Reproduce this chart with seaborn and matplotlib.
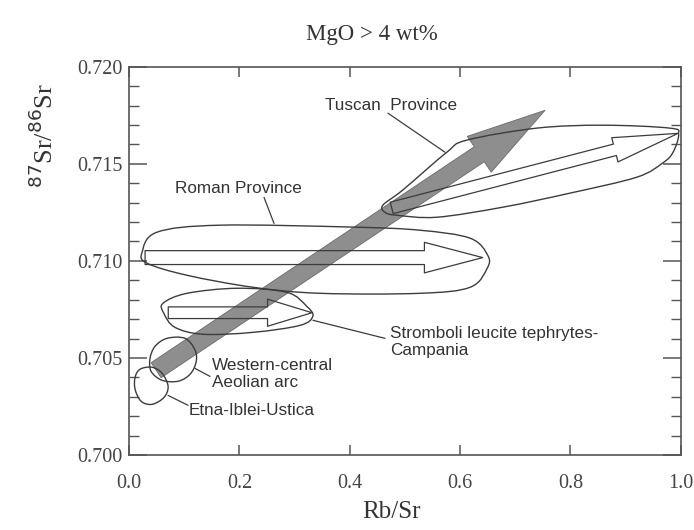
import numpy as np
import matplotlib
matplotlib.use("Agg")
import matplotlib.pyplot as plt
import seaborn as sns
from matplotlib.path import Path
from matplotlib.patches import PathPatch, FancyArrowPatch
from matplotlib.ticker import MultipleLocator, FormatStrFormatter

# axes
x_ticks = [0.0, 0.2, 0.4, 0.6, 0.8, 1.0]
y_ticks = [0.700, 0.705, 0.710, 0.715, 0.720]

# field outlines (Rb/Sr, 87Sr/86Sr)
tuscan_x = [0.460, 0.496, 0.576, 0.612, 0.739, 0.859, 0.980, 0.996, 0.986, 0.967, 0.920, 0.799, 0.678, 0.558, 0.486, 0.464]
tuscan_y = [0.71287, 0.71365, 0.71560, 0.71622, 0.71684, 0.71699, 0.71684, 0.71653, 0.71560, 0.71504, 0.71431, 0.71349, 0.71277, 0.71225, 0.71235, 0.71250]

roman_x = [0.0236, 0.0507, 0.165, 0.406, 0.527, 0.618, 0.650, 0.649, 0.618, 0.527, 0.346, 0.225, 0.105, 0.0326]
roman_y = [0.71045, 0.71148, 0.71184, 0.71174, 0.71158, 0.71117, 0.71029, 0.70962, 0.70864, 0.70833, 0.70833, 0.70864, 0.70926, 0.70988]

stromboli_x = [0.0616, 0.105, 0.196, 0.286, 0.322, 0.333, 0.310, 0.225, 0.134, 0.083, 0.063]
stromboli_y = [0.70782, 0.70833, 0.70859, 0.70838, 0.70766, 0.70715, 0.70668, 0.70632, 0.70622, 0.70658, 0.70730]

aeolian_x = [0.0688, 0.1014, 0.1196, 0.1214, 0.1105, 0.0888, 0.0598, 0.0399, 0.0380, 0.0471]
aeolian_y = [0.70601, 0.70601, 0.70540, 0.70478, 0.70416, 0.70380, 0.70385, 0.70431, 0.70498, 0.70560]

etna_x = [0.0199, 0.0417, 0.0598, 0.0707, 0.0634, 0.0417, 0.0217, 0.0109, 0.0109]
etna_y = [0.70442, 0.70452, 0.70421, 0.70354, 0.70297, 0.70261, 0.70277, 0.70339, 0.70400]

# trend arrows: tail and tip (Rb/Sr, 87Sr/86Sr)
trend_tail = (0.049, 0.70437)
trend_tip = (0.754, 0.71776)
white_tails = [(0.476, 0.71273), (0.029, 0.71017), (0.071, 0.70733)]
white_tips = [(0.995, 0.71657), (0.641, 0.71017), (0.3315, 0.70733)]
# tail width, head width, head length in points
white_sizes = [(8.5, 18, 47), (10, 22, 42), (8.4, 19.5, 32)]

# labels and leader lines
labels = ["Tuscan  Province", "Roman Province", "Stromboli leucite tephrytes-\nCampania",
          "Western-central\nAeolian arc", "Etna-Iblei-Ustica"]
label_xy = [(0.4755, 0.71803), (0.1975, 0.71373), (0.4728, 0.70581), (0.150, 0.70416), (0.1087, 0.70230)]
label_ha = ["center", "center", "left", "left", "left"]
leader_x = [(0.4692, 0.5725), (0.2446, 0.2627), (0.3333, 0.4638), (0.1196, 0.1467), (0.0707, 0.1069)]
leader_y = [(0.71761, 0.71560), (0.71327, 0.71193), (0.70694, 0.70601), (0.70446, 0.70405), (0.70307, 0.70256)]


def closed_curve(xs, ys):
    pts = np.column_stack([xs, ys])
    n = len(pts)
    verts = [pts[0]]
    codes = [Path.MOVETO]
    for i in range(n):
        p0, p1, p2, p3 = pts[i - 1], pts[i], pts[(i + 1) % n], pts[(i + 2) % n]
        verts += [p1 + (p2 - p0) / 6, p2 - (p3 - p1) / 6, p2]
        codes += [Path.CURVE4] * 3
    return Path(verts, codes)


sns.set_theme(style="ticks")
plt.rcParams["font.family"] = ["Liberation Serif", "DejaVu Serif"]

ink = "#333333"
fig = plt.figure(figsize=(6.94, 5.30), dpi=100)
ax = fig.add_axes([0.186, 0.1415, 0.795, 0.7325])
ax.set_xlim(0, 1.0)
ax.set_ylim(0.700, 0.720)

# big grey trend arrow
ax.add_patch(FancyArrowPatch(
    trend_tail, trend_tip, mutation_scale=1, shrinkA=0, shrinkB=0,
    arrowstyle="simple,head_length=57,head_width=31,tail_width=13",
    fc="#8e8e8e", ec="#6a6a6a", lw=0.6, zorder=2))

for xs, ys in [(tuscan_x, tuscan_y), (roman_x, roman_y), (stromboli_x, stromboli_y),
               (aeolian_x, aeolian_y), (etna_x, etna_y)]:
    ax.add_patch(PathPatch(closed_curve(xs, ys), fill=False, ec="#3c3c3c", lw=1.0, zorder=3))

for tail, tip, (tw, hw, hl) in zip(white_tails, white_tips, white_sizes):
    ax.add_patch(FancyArrowPatch(
        tail, tip, mutation_scale=1, shrinkA=0, shrinkB=0,
        arrowstyle=f"simple,head_length={hl},head_width={hw},tail_width={tw}",
        fc="none", ec="#3c3c3c", lw=0.9, zorder=3))

for lx, ly in zip(leader_x, leader_y):
    sns.lineplot(x=list(lx), y=list(ly), ax=ax, color="#3c3c3c", lw=0.9,
                 sort=False, estimator=None, zorder=3)

for txt, (tx, ty), ha in zip(labels, label_xy, label_ha):
    ax.text(tx, ty, txt, ha=ha, va="center", fontsize=12.3, color=ink,
            family=["Liberation Sans", "DejaVu Sans"], linespacing=1.2, zorder=4)

# axes styling
ax.set_xticks(x_ticks)
ax.set_yticks(y_ticks)
ax.xaxis.set_major_formatter(FormatStrFormatter("%.1f"))
ax.yaxis.set_major_formatter(FormatStrFormatter("%.3f"))
ax.yaxis.set_minor_locator(MultipleLocator(0.001))
ax.tick_params(axis="x", which="major", direction="in", top=True, length=7.5, width=1.1,
               pad=14, labelsize=14.5, colors="#555555", labelcolor="#444444")
ax.tick_params(axis="y", which="major", direction="in", right=True, length=13, width=1.1,
               pad=5, labelsize=14.5, colors="#555555", labelcolor="#444444")
ax.tick_params(axis="y", which="minor", direction="in", right=True, length=7, width=1.0,
               colors="#555555")
for s in ax.spines.values():
    s.set_color("#555555")
    s.set_linewidth(1.2)
ax.grid(False)
ax.set_facecolor("white")

ax.set_xlabel("Rb/Sr", fontsize=18, color=ink, va="center")
ax.xaxis.set_label_coords(0.476, -0.147)
ax.set_ylabel(r"$^{87}$Sr/$^{86}$Sr", fontsize=19, color=ink, va="center")
ax.yaxis.set_label_coords(-0.154, 0.824)
plt.rcParams["mathtext.fontset"] = "stix"

ax.text(0.44, 1.082, "MgO > 4 wt%", transform=ax.transAxes, ha="center", va="center",
        fontsize=16.5, color=ink)

fig.savefig("out.png", dpi=100, facecolor="white")
plt.close(fig)
